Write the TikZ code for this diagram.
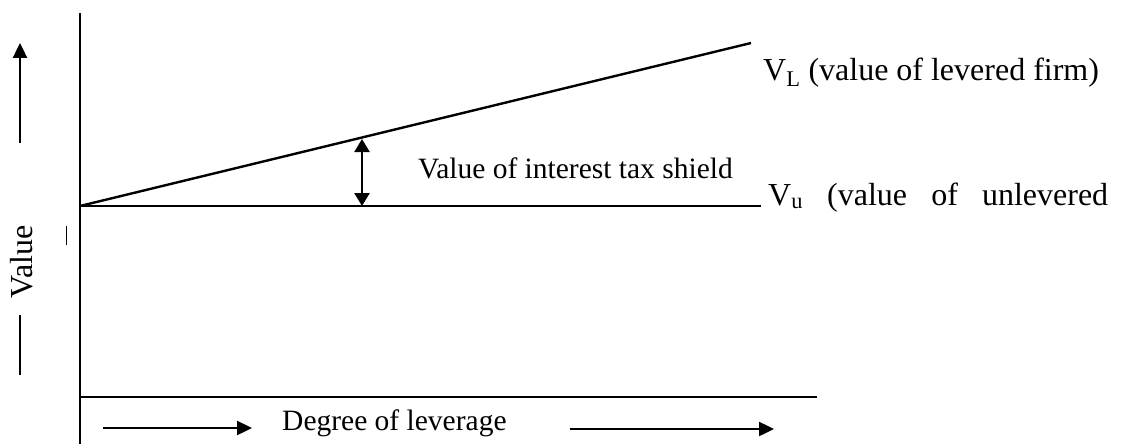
\documentclass[tikz,border=0pt]{standalone}
\usepackage{fontspec}
\setmainfont{Liberation Serif}
\usetikzlibrary{arrows.meta}
\begin{document}
\begin{tikzpicture}[x=1pt,y=-1pt,
  axis/.style={line width=2.4pt},
  thinaxis/.style={line width=1.9pt},
  arr/.style={line width=2.4pt,-{Triangle[length=15pt,width=14pt]}},
  dbl/.style={line width=2.4pt,{Triangle[length=13pt,width=15pt]}-{Triangle[length=13pt,width=15pt]}},
  lbl/.style={font=\fontsize{29.5}{34}\selectfont, inner sep=0pt},
  biglbl/.style={font=\fontsize{32}{38}\selectfont, inner sep=0pt}]
\useasboundingbox (0,0) rectangle (1121,444);
% axes and lines
\coordinate (ytop) at (80,13);
\coordinate (ybot) at (80,444);
\coordinate (O) at (80,206);
\coordinate (vuend) at (761,206);
\coordinate (vlend) at (751,43);
\coordinate (bl) at (80,397);
\coordinate (br) at (817,397);
\draw[axis] (ytop) -- (ybot);
\draw[axis] (O) -- (vuend);
\draw[axis] (O) -- (vlend);
\draw[thinaxis] (bl) -- (br);
% tax shield arrow
\coordinate (sh1) at (362,139);
\coordinate (sh2) at (362,206);
\draw[dbl] (sh1) -- (sh2);
% labels
\node[biglbl,anchor=base west] (vl) at (763,80) {V\textsubscript{L} (value of levered firm)};
\node[biglbl,anchor=base west] (vu) at (768,205) {\makebox[340pt][s]{V\textsubscript{u} (value of unlevered}};
\node[lbl,anchor=base west] (shield) at (418,178) {Value of interest tax shield};
\node[biglbl,rotate=90] (value) at (22,262) {Value};
\node[lbl,anchor=base west] (degree) at (282,430) {Degree of leverage};
% left arrows
\coordinate (ua1) at (20,143);
\coordinate (ua2) at (20,43);
\draw[arr] (ua1) -- (ua2);
\coordinate (ul1) at (20,315);
\coordinate (ul2) at (20,375);
\draw[axis] (ul1) -- (ul2);
\coordinate (tk1) at (66,226);
\coordinate (tk2) at (66,245);
\draw[line width=0.8pt] (tk1) -- (tk2);
% bottom arrows
\coordinate (ba1) at (103,428);
\coordinate (ba2) at (252,428);
\draw[arr] (ba1) -- (ba2);
\coordinate (bb1) at (570,429);
\coordinate (bb2) at (774,429);
\draw[arr] (bb1) -- (bb2);
\end{tikzpicture}
\end{document}
